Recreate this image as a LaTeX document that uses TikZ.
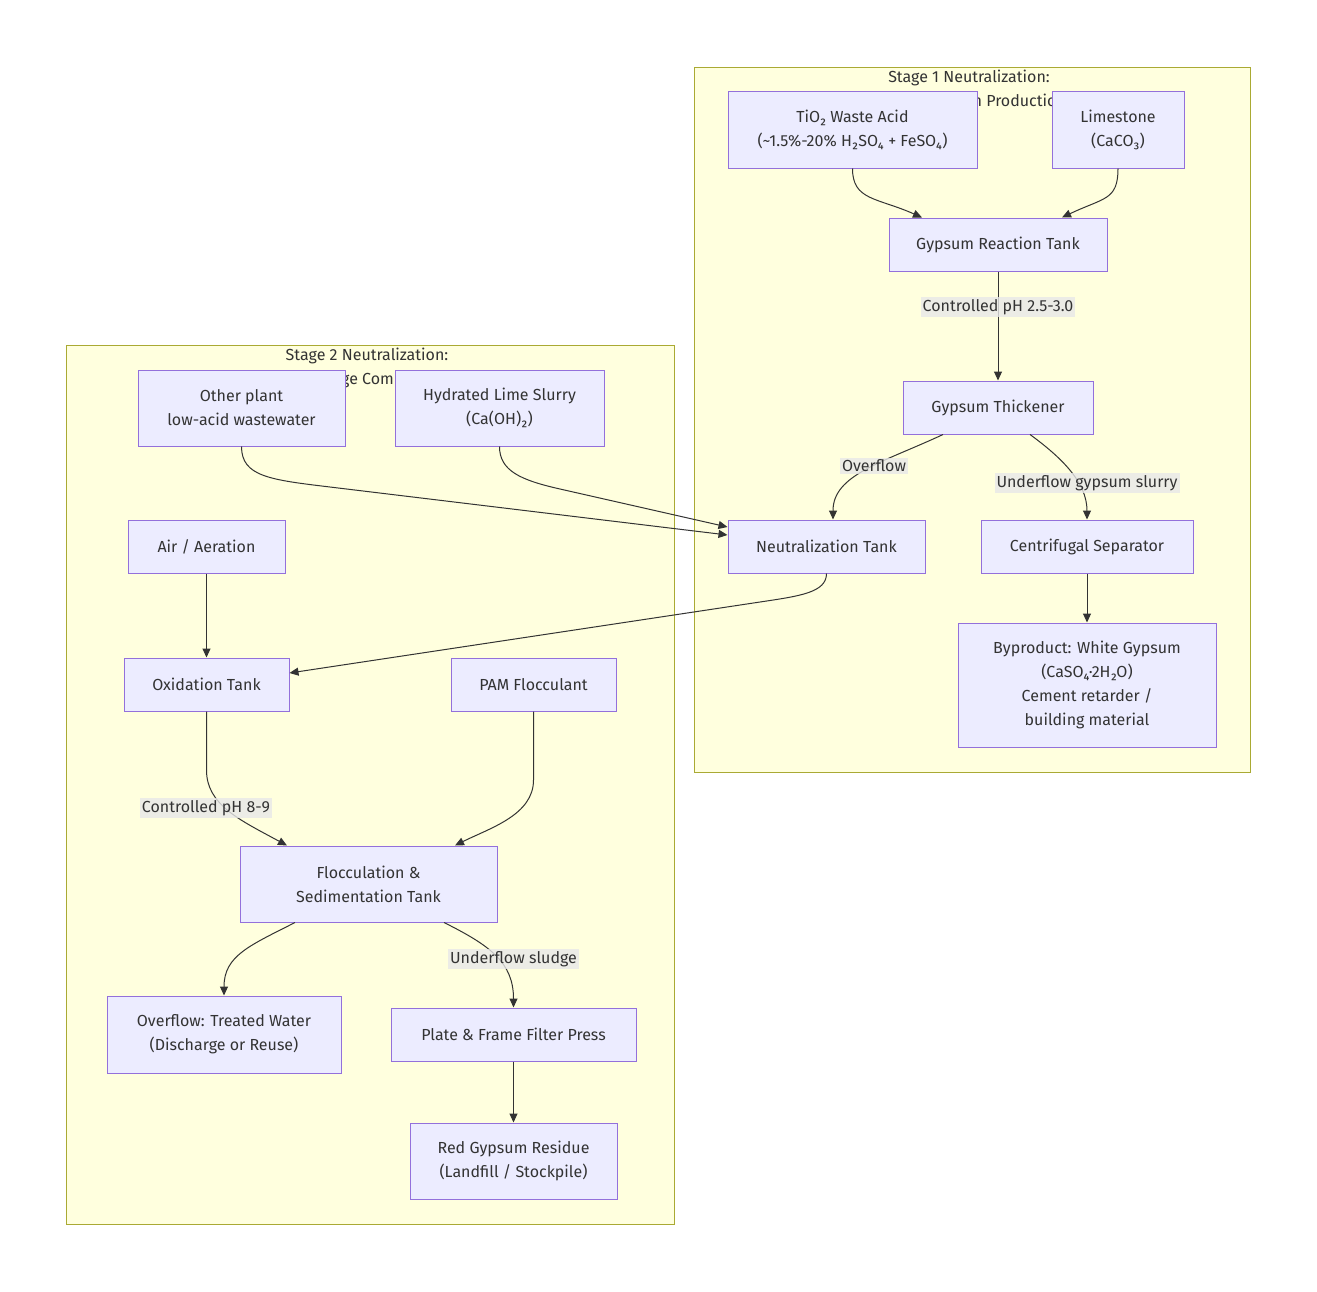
\documentclass[tikz,border=0pt]{standalone}
\usepackage{fontspec}
\setmainfont{Fira Sans}
\usetikzlibrary{arrows.meta}
\definecolor{clfill}{HTML}{FFFFDE}
\definecolor{cldraw}{HTML}{AAAA33}
\definecolor{ndfill}{HTML}{ECECFF}
\definecolor{nddraw}{HTML}{9370DB}
\definecolor{ink}{HTML}{333333}
\definecolor{lblbg}{HTML}{E8E8E8}
\tikzset{
  cluster/.style={draw=cldraw, fill=clfill, line width=1pt},
  box/.style={draw=nddraw, fill=ndfill, line width=1pt, align=center, inner sep=0pt, text=ink,
    font=\fontsize{16}{24}\selectfont},
  ttl/.style={text=ink, font=\fontsize{16}{24}\selectfont, inner sep=0pt},
  lbl/.style={fill=lblbg, fill opacity=0.8, text opacity=1, text=ink, inner sep=2pt,
    font=\fontsize{16}{20}\selectfont},
  arr/.style={draw=ink, line width=1pt, -{Triangle[length=9pt,width=8pt]}},
}
\begin{document}
\begin{tikzpicture}[x=1pt,y=-1pt]
\useasboundingbox (0,0) rectangle (1317,1291);
\fill[white] (0,0) rectangle (1317,1291);
% clusters
\draw[cluster] (694,67) rectangle (1250,772);
\draw[cluster] (66,345) rectangle (674,1224);
\node[ttl] (t1a) at (969,78) {Stage 1 Neutralization:};
\node[ttl, anchor=east] (t1b) at (1066,102) {White Gypsum Production};
\node[ttl] (t2a) at (367,356) {Stage 2 Neutralization:};
\node[ttl] (t2b) at (367,380) {Discharge Compliance};
% nodes stage 1
\node[box, minimum width=249, minimum height=77] (tio) at (852.5,129.5) {TiO₂ Waste Acid\\(\textasciitilde1.5\%-20\% H₂SO₄ + FeSO₄)};
\node[box, minimum width=132, minimum height=77] (lime) at (1118,129.5) {Limestone\\(CaCO₃)};
\node[box, minimum width=218, minimum height=53] (rxn) at (998,244.5) {Gypsum Reaction Tank};
\node[box, minimum width=190, minimum height=53] (thick) at (998,407.5) {Gypsum Thickener};
\node[box, minimum width=197, minimum height=53] (neut) at (826.5,546.5) {Neutralization Tank};
\node[box, minimum width=212, minimum height=53] (cent) at (1087,546.5) {Centrifugal Separator};
\node[box, minimum width=258, minimum height=124] (byp) at (1087,685) {Byproduct: White Gypsum\\(CaSO₄·2H₂O)\\Cement retarder /\\ building material};
% nodes stage 2
\node[box, minimum width=207, minimum height=76] (other) at (241.5,408) {Other plant\\low-acid wastewater};
\node[box, minimum width=209, minimum height=76] (hyd) at (499.5,408) {Hydrated Lime Slurry\\(Ca(OH)₂)};
\node[box, minimum width=157, minimum height=53] (air) at (206.5,546.5) {Air / Aeration};
\node[box, minimum width=165, minimum height=53] (oxi) at (206.5,684.5) {Oxidation Tank};
\node[box, minimum width=165, minimum height=53] (pam) at (533.5,684.5) {PAM Flocculant};
\node[box, minimum width=257, minimum height=76] (floc) at (368.5,884) {Flocculation \&\\ Sedimentation Tank};
\node[box, minimum width=234, minimum height=77] (ovf) at (224,1034.5) {Overflow: Treated Water\\(Discharge or Reuse)};
\node[box, minimum width=245, minimum height=53] (press) at (513.5,1034.5) {Plate \& Frame Filter Press};
\node[box, minimum width=207, minimum height=76] (red) at (513.5,1161) {Red Gypsum Residue\\(Landfill / Stockpile)};
% edges stage 1
\draw[arr] (tio.south) .. controls +(0,32) and +(-45,-20) .. ([xshift=-76pt]rxn.north);
\draw[arr] (lime.south) .. controls +(0,32) and +(42,-20) .. ([xshift=64pt]rxn.north);
\draw[arr] (rxn.south) -- (thick.north);
\node[lbl] (l1) at (998,307) {Controlled pH 2.5-3.0};
\draw[arr] ([xshift=-55pt]thick.south) .. controls +(-60,28) and +(0,-45) .. ([xshift=6.5pt]neut.north);
\node[lbl] (l2) at (874,466) {Overflow};
\draw[arr] ([xshift=32pt]thick.south) .. controls +(30,22) and +(0,-38) .. (cent.north);
\node[lbl] (l3) at (1087,483) {Underflow gypsum slurry};
\draw[arr] (cent.south) -- (byp.north);
% cross edges
\draw[arr] (other.south) .. controls +(0,30) and +(-60,-7.2) .. (330,487) -- ([yshift=11.5pt]neut.west);
\draw[arr] (hyd.south) .. controls +(0,24) and +(-40,-9) .. (560,489) -- ([yshift=19.5pt]neut.west);
\draw[arr] (neut.south) .. controls +(0,19) and +(40,-6) .. (760,602) -- ([yshift=11.5pt]oxi.east);
% edges stage 2
\draw[arr] (air.south) -- (oxi.north);
\draw[arr] (oxi.south) -- (206.5,770) .. controls (206.5,805) and (240,820) .. ([xshift=-81.5pt]floc.north);
\node[lbl] (l4) at (206,808) {Controlled pH 8-9};
\draw[arr] (pam.south) -- (533.5,780) .. controls (533.5,815) and (490,828) .. ([xshift=86.5pt]floc.north);
\draw[arr] ([xshift=-73.5pt]floc.south) .. controls +(-45,23) and +(0,-40) .. (ovf.north);
\draw[arr] ([xshift=75.5pt]floc.south) .. controls +(46,23) and +(0,-45) .. (press.north);
\node[lbl] (l5) at (513.5,959) {Underflow sludge};
\draw[arr] (press.south) -- (red.north);
\end{tikzpicture}
\end{document}
